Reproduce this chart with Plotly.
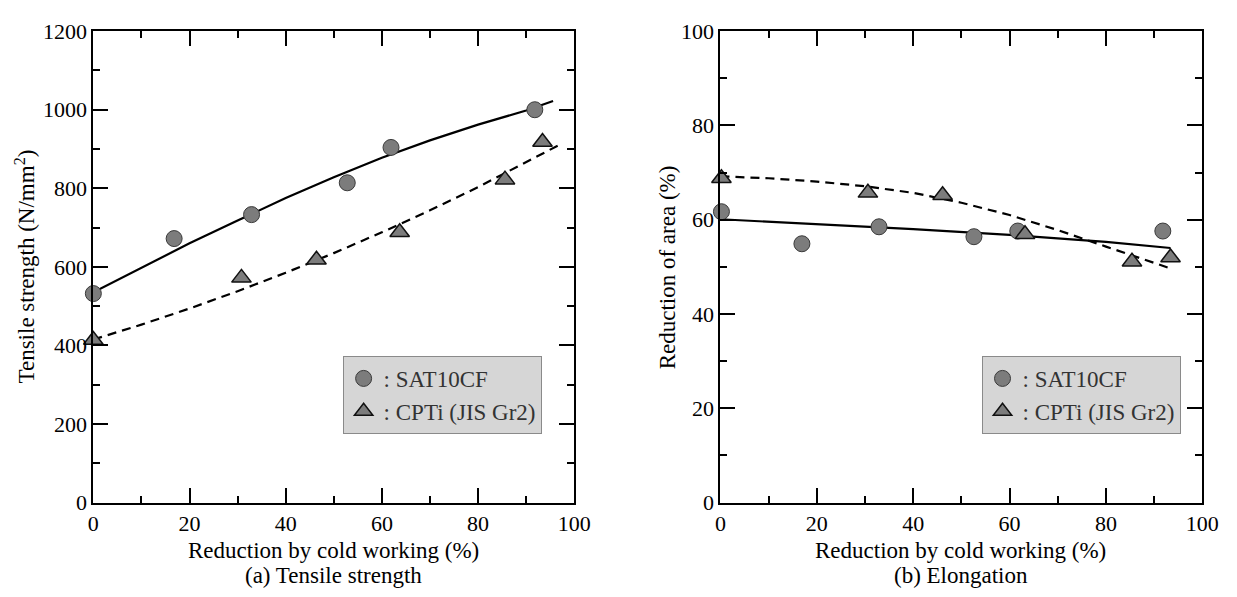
import plotly.graph_objects as go

# ---------------- data ----------------
# (a) Tensile strength
x_sat_a = [0, 16.8, 32.9, 52.8, 61.9, 91.8]
y_sat_a = [532, 672, 733, 814, 904, 1000]
x_cpti_a = [0, 30.8, 46.4, 63.7, 85.6, 93.4]
y_cpti_a = [414, 572, 618, 688, 822, 918]
fit_x_a_solid = [0, 10, 20, 30, 40, 50, 60, 70, 80, 90, 95.6]
fit_y_a_solid = [535, 598, 660, 718, 775, 828, 878, 922, 962, 998, 1022]
fit_x_a_dash = [0, 10, 20, 30, 40, 50, 60, 70, 80, 90, 97.6]
fit_y_a_dash = [415, 453, 494, 538, 585, 635, 688, 744, 803, 866, 915]

# (b) Elongation (reduction of area)
x_sat_b = [0.2, 16.9, 32.9, 52.6, 61.7, 91.8]
y_sat_b = [61.7, 54.9, 58.5, 56.4, 57.6, 57.6]
x_cpti_b = [0.2, 30.6, 46.1, 63.2, 85.4, 93.4]
y_cpti_b = [68.8, 65.7, 65.2, 56.9, 51.1, 52.0]
fit_x_b_solid = [0, 20, 40, 60, 80, 93.4]
fit_y_b_solid = [60.1, 59.1, 58.0, 56.8, 55.3, 54.0]
fit_x_b_dash = [0, 10, 20, 30, 40, 50, 60, 70, 80, 93]
fit_y_b_dash = [69.2, 68.8, 68.1, 67.1, 65.7, 63.6, 61.0, 57.8, 54.3, 49.8]

name_sat = ": SAT10CF"
name_cpti = ": CPTi (JIS Gr2)"

# ---------------- styling ----------------
W, H = 1237, 597
FONT = "Liberation Serif, Times New Roman, DejaVu Serif, serif"
MFILL = "#7c7c7c"
MLINE = "#3a3a3a"

fig = go.Figure()


def add_panel(xa, ya, legend, xs, ys, xt, yt, fxs, fys, fxd, fyd):
    fig.add_trace(go.Scatter(x=fxs, y=fys, mode="lines", xaxis=xa, yaxis=ya,
                             line=dict(color="black", width=2.2),
                             showlegend=False, hoverinfo="skip"))
    fig.add_trace(go.Scatter(x=fxd, y=fyd, mode="lines", xaxis=xa, yaxis=ya,
                             line=dict(color="black", width=2.2, dash="9px,6px"),
                             showlegend=False, hoverinfo="skip"))
    fig.add_trace(go.Scatter(x=xs, y=ys, mode="markers", xaxis=xa, yaxis=ya,
                             name=name_sat, legend=legend, cliponaxis=False,
                             marker=dict(symbol="circle", size=16, color=MFILL,
                                         line=dict(color=MLINE, width=1))))
    fig.add_trace(go.Scatter(x=xt, y=yt, mode="markers", xaxis=xa, yaxis=ya,
                             name=name_cpti, legend=legend, cliponaxis=False,
                             marker=dict(symbol="triangle-up", size=17, color=MFILL,
                                         line=dict(color="#111111", width=1.5))))


add_panel("x", "y", "legend", x_sat_a, y_sat_a, x_cpti_a, y_cpti_a,
          fit_x_a_solid, fit_y_a_solid, fit_x_a_dash, fit_y_a_dash)
add_panel("x2", "y2", "legend2", x_sat_b, y_sat_b, x_cpti_b, y_cpti_b,
          fit_x_b_solid, fit_y_b_solid, fit_x_b_dash, fit_y_b_dash)

ydom = [1 - 512 / H, 1 - 20 / H]


def axis_common(**kw):
    d = dict(showline=True, linewidth=2, linecolor="black", mirror="ticks",
             ticks="inside", ticklen=15, tickwidth=2, tickcolor="black",
             showgrid=False, zeroline=False,
             tickfont=dict(family=FONT, size=22, color="black"))
    d.update(kw)
    return d


def minor(dt):
    return dict(dtick=dt, ticks="inside", ticklen=7, tickwidth=2,
                tickcolor="black", showgrid=False)


fig.update_layout(
    width=W, height=H,
    margin=dict(l=0, r=0, t=0, b=0),
    paper_bgcolor="white", plot_bgcolor="white",
    font=dict(family=FONT, color="black"),
    showlegend=True,
    xaxis=axis_common(domain=[89 / W, 579 / W], range=[0, 100], dtick=20, anchor="y",
                      minor=minor(10)),
    yaxis=axis_common(domain=ydom, range=[0, 1200], dtick=200, anchor="x",
                      minor=minor(100)),
    xaxis2=axis_common(domain=[728 / W, 1219 / W], range=[0, 100], dtick=20, anchor="y2",
                       minor=minor(10)),
    yaxis2=axis_common(domain=ydom, range=[0, 100], dtick=20, anchor="x2",
                       minor=minor(10)),
    legend=dict(x=343 / W, y=1 - 359 / H, xanchor="left", yanchor="top",
                bgcolor="#d6d6d6", bordercolor="#8a8a8a", borderwidth=1,
                font=dict(family=FONT, size=23, color="#333333"),
                itemwidth=30, tracegroupgap=0),
    legend2=dict(x=994 / W, y=1 - 359 / H, xanchor="left", yanchor="top",
                 bgcolor="#d6d6d6", bordercolor="#8a8a8a", borderwidth=1,
                 font=dict(family=FONT, size=23, color="#333333"),
                 itemwidth=30, tracegroupgap=0),
)

tfont = dict(family=FONT, size=23, color="black")
ann = [
    dict(text="Tensile strength (N/mm<sup>2</sup>)", x=20 / W, y=1 - 266 / H, textangle=-90),
    dict(text="Reduction by cold working (%)", x=334 / W, y=1 - 562 / H),
    dict(text="(a) Tensile strength", x=334 / W, y=1 - 588 / H),
    dict(text="Reduction of area (%)", x=674 / W, y=1 - 266 / H, textangle=-90),
    dict(text="Reduction by cold working (%)", x=973 / W, y=1 - 562 / H),
    dict(text="(b) Elongation", x=973 / W, y=1 - 588 / H),
]
for a in ann:
    fig.add_annotation(xref="paper", yref="paper", showarrow=False,
                       xanchor="center", yanchor="middle", font=tfont, **a)

fig.write_html("out.html")
